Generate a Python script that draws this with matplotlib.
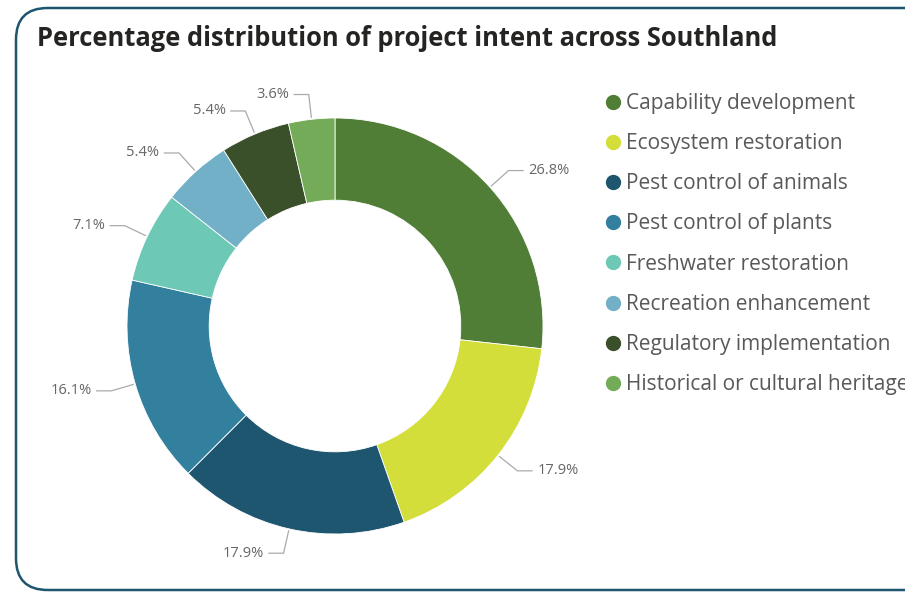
import numpy as np
import matplotlib
matplotlib.use("Agg")
import matplotlib.pyplot as plt
from matplotlib.patches import FancyBboxPatch
from matplotlib.lines import Line2D

# data
categories = ["Capability development", "Ecosystem restoration", "Pest control of animals",
              "Pest control of plants", "Freshwater restoration", "Recreation enhancement",
              "Regulatory implementation", "Historical or cultural heritage"]
shares = [26.8, 17.9, 17.9, 16.1, 7.1, 5.4, 5.4, 3.6]
colors = ["#507E36", "#D4DE3A", "#1D566E", "#33809E", "#6DC8B5", "#72B0C8", "#3A502A", "#74AB58"]

W, H = 905, 592
fig = plt.figure(figsize=(W / 100, H / 100), dpi=100)
fig.patch.set_facecolor("white")

# card border (runs off the right edge like the screenshot)
card = FancyBboxPatch((16 / W, 2 / H), 930 / W, 582 / H,
                      boxstyle="round,pad=0,rounding_size=0.035",
                      transform=fig.transFigure, facecolor="none",
                      edgecolor="#1D566E", linewidth=1.8, mutation_aspect=W / H)
fig.patches.append(card)

fig.text(37 / W, 1 - 38 / H, "Percentage distribution of project intent across Southland",
         fontsize=18.4, fontweight="bold", family="Open Sans", color="#252423",
         ha="left", va="center")

# donut axes: centre at (335, 326) px from top, outer radius 210 px
R = 210
half = 260
ax = fig.add_axes([(335 - half) / W, (H - 326 - half) / H, 2 * half / W, 2 * half / H])
ax.set_xlim(-half / R, half / R)
ax.set_ylim(-half / R, half / R)
ax.set_aspect("equal")
ax.axis("off")

wedges, _ = ax.pie(shares, colors=colors, startangle=90, counterclock=False,
                   radius=1.0, wedgeprops=dict(width=0.395, edgecolor="white", linewidth=0.6))

for w, s in zip(wedges, shares):
    mid = np.deg2rad((w.theta1 + w.theta2) / 2)
    c, sn = np.cos(mid), np.sin(mid)
    x0, y0 = 1.01 * c, 1.01 * sn
    x1, y1 = 1.12 * c, 1.12 * sn
    sign = 1 if c >= 0 else -1
    x2 = x1 + sign * 0.07
    ax.plot([x0, x1, x2], [y0, y1, y1], color="#aaaaaa", lw=0.9, clip_on=False)
    ax.text(x2 + sign * 0.025, y1, f"{s:.1f}%", ha="left" if sign > 0 else "right",
            va="center", fontsize=10.5, color="#666666", family="Open Sans")

handles = [Line2D([0], [0], marker="o", linestyle="none", markersize=10,
                  markerfacecolor=col, markeredgecolor=col) for col in colors]
fig.legend(handles, categories, loc="upper left", bbox_to_anchor=(606 / W, 1 - 93 / H),
           frameon=False, handlelength=0.7, handletextpad=0.25, labelspacing=0.92,
           prop=dict(family="Open Sans", size=15), labelcolor="#595959",
           borderpad=0, borderaxespad=0)

fig.savefig("out.png", dpi=100)
